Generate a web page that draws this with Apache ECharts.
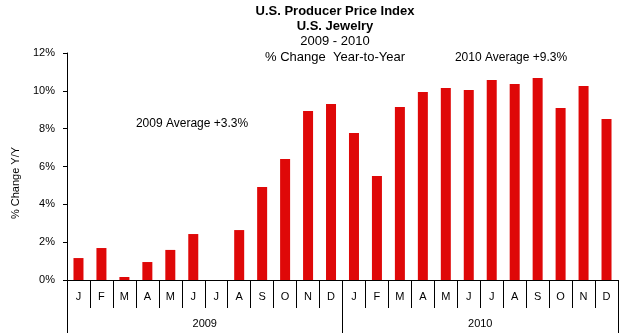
<!DOCTYPE html>
<html><head><meta charset="utf-8">
<script src="https://cdn.jsdelivr.net/npm/echarts@6/dist/echarts.min.js"></script>
<style>html,body{margin:0;padding:0;background:#fff}#c{width:623px;height:333px}</style>
</head><body><div id="c"></div>
<script>
const months = ['J','F','M','A','M','J','J','A','S','O','N','D'];
const years = ['2009','2010'];
const values2009 = [1.16, 1.69, 0.16, 0.95, 1.59, 2.43, 0, 2.64, 4.92, 6.40, 8.93, 9.30];
const values2010 = [7.77, 5.50, 9.14, 9.94, 10.15, 10.04, 10.57, 10.36, 10.68, 9.09, 10.25, 8.51];
const yTicks = [0, 2, 4, 6, 8, 10, 12];

const cats = [];
years.forEach(y => months.forEach((m, i) => cats.push(m + '|' + y + '|' + i)));
const values = values2009.concat(values2010);
const FF = 'Liberation Sans, Arial, sans-serif';
function txt(text, x, y, size, bold) {
  return {type: 'text', x: x, y: y, z: 10,
    style: {text: text, font: (bold ? 'bold ' : '') + size + 'px ' + FF, fill: '#000', align: 'center', verticalAlign: 'middle'}};
}
const chart = echarts.init(document.getElementById('c'));
chart.setOption({
  animation: false,
  backgroundColor: '#fff',
  graphic: [
    txt('U.S. Producer Price Index', 335, 11, 13, true),
    txt('U.S. Jewelry', 335, 26, 13, true),
    txt('2009 - 2010', 335, 41, 13, false),
    txt('% Change  Year-to-Year', 335, 57, 13, false),
    txt('2010 Average +9.3%', 511, 58, 12, false),
    txt('2009 Average +3.3%', 192, 124, 12, false),
    {type: 'text', x: 16, y: 183, rotation: Math.PI / 2,
     style: {text: '% Change Y/Y', font: '11px ' + FF, fill: '#000', align: 'center', verticalAlign: 'middle'}}
  ],
  grid: {left: 67, right: 5, top: 53, bottom: 53, containLabel: false},
  xAxis: [{
    type: 'category', data: cats, position: 'bottom',
    axisLine: {lineStyle: {color: '#000', width: 1}},
    axisTick: {show: true, interval: 0, length: 28, lineStyle: {color: '#000'}},
    axisLabel: {interval: 0, margin: 11, fontFamily: FF, fontSize: 11, color: '#000',
      formatter: v => v.split('|')[0]}
  }, {
    type: 'category', data: years, position: 'bottom',
    axisLine: {show: false},
    axisTick: {show: true, interval: 0, length: 53, lineStyle: {color: '#000'}},
    axisLabel: {interval: 0, margin: 38, fontFamily: FF, fontSize: 11, color: '#000'}
  }],
  yAxis: {
    type: 'value', min: yTicks[0], max: yTicks[yTicks.length - 1], interval: 2,
    axisLine: {show: true, lineStyle: {color: '#000'}},
    axisTick: {show: true, length: 4, lineStyle: {color: '#000'}},
    splitLine: {show: false},
    axisLabel: {margin: 12, fontFamily: FF, fontSize: 11, color: '#000', formatter: '{value}%'}
  },
  series: [{
    type: 'bar', xAxisIndex: 0, data: values, barWidth: 10,
    itemStyle: {color: '#DF0808'}
  }]
});
</script></body></html>
